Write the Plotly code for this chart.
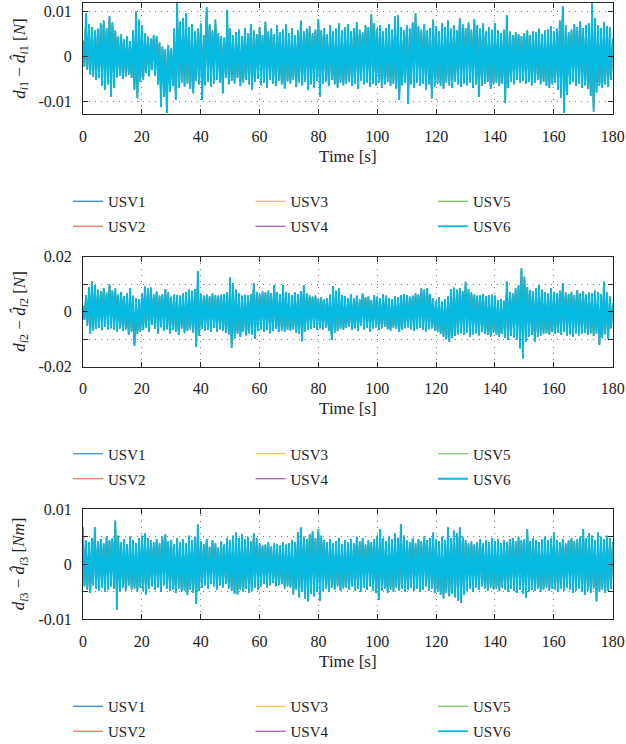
import numpy as np
import plotly.graph_objects as go

# ---------------- data ----------------
usv_names = ["USV1", "USV2", "USV3", "USV4", "USV5", "USV6"]
usv_colors = ["#0F72C6", "#F0633A", "#F6AF26", "#8B3A9F", "#5AB946", "#05B9E1"]
x_tick_vals = [0, 20, 40, 60, 80, 100, 120, 140, 160, 180]

# Estimation error, in units of 1e-4.
# "up" = local maxima at t = 0,1,...,180 s ; "dn" = local minima at t = 0.5,...,179.5 s
# (the six USV curves overlap completely in the picture, so one reading is used for all)
UNIT = 1e-4

p1_up = [35, 97, 72, 66, 58, 62, 74, 80, 64, 90,
         76, 58, 44, 50, 38, 46, 34, 58, 100, 82,
         70, 52, 44, 40, 48, 46, 32, 22, 16, 26,
         18, 62, 119, 78, 86, 97, 66, 72, 56, 62,
         74, 48, 110, 72, 58, 82, 52, 46, 42, 104,
         62, 48, 54, 60, 46, 64, 52, 72, 58, 50,
         66, 48, 78, 56, 62, 50, 70, 54, 60, 72,
         52, 64, 48, 58, 80, 56, 62, 68, 52, 60,
         84, 58, 64, 50, 70, 56, 62, 74, 58, 66,
         72, 56, 64, 76, 60, 54, 70, 66, 94, 74,
         62, 70, 56, 64, 72, 60, 90, 92, 66, 58,
         70, 62, 76, 97, 68, 60, 72, 58, 64, 82,
         68, 56, 74, 66, 80, 62, 70, 58, 85, 72,
         64, 76, 60, 84, 70, 62, 74, 56, 66, 60,
         74, 58, 52, 60, 93, 56, 48, 54, 50, 46,
         52, 58, 48, 56, 54, 62, 50, 58, 60, 68,
         56, 62, 80, 112, 70, 54, 60, 72, 66, 78,
         64, 70, 74, 119, 86, 70, 64, 76, 68, 66,
         40]
p1_dn = [-22, -30, -40, -45, -52, -48, -66, -74, -62, -89,
         -70, -46, -42, -50, -44, -40, -48, -74, -93, -56,
         -52, -36, -44, -30, -42, -62, -112, -90, -126, -78,
         -66, -97, -70, -58, -67, -60, -72, -82, -54, -62,
         -97, -64, -56, -67, -60, -52, -58, -82, -48, -62,
         -54, -60, -48, -66, -58, -52, -62, -74, -56, -50,
         -64, -58, -70, -52, -60, -66, -54, -62, -72, -56,
         -60, -52, -68, -58, -64, -56, -74, -62, -70, -54,
         -89, -60, -56, -66, -52, -62, -70, -58, -64, -60,
         -56, -66, -60, -72, -54, -62, -58, -68, -60, -64,
         -58, -70, -62, -56, -66, -60, -72, -97, -64, -58,
         -106, -62, -70, -58, -66, -60, -74, -62, -93, -68,
         -60, -66, -72, -58, -64, -70, -56, -62, -68, -60,
         -64, -58, -70, -62, -90, -66, -60, -56, -72, -62,
         -58, -66, -60, -104, -70, -56, -62, -52, -58, -54,
         -60, -56, -64, -58, -52, -62, -56, -66, -70, -62,
         -58, -74, -92, -126, -86, -62, -56, -66, -60, -70,
         -64, -72, -88, -123, -80, -66, -70, -62, -68, -52]

p2_up = [20, 60, 88, 111, 96, 80, 74, 86, 70, 100,
         78, 84, 62, 72, 56, 66, 85, 58, 48, 44,
         66, 91, 84, 88, 62, 73, 58, 64, 82, 70,
         54, 62, 60, 58, 66, 72, 80, 76, 82, 148,
         64, 58, 62, 56, 66, 60, 58, 62, 64, 70,
         124, 103, 80, 66, 58, 62, 60, 64, 103, 72,
         64, 73, 70, 76, 68, 97, 70, 64, 97, 72,
         66, 60, 70, 64, 74, 97, 66, 60, 54, 58,
         48, 52, 44, 50, 62, 93, 76, 85, 60, 56,
         50, 62, 48, 58, 44, 66, 52, 56, 42, 60,
         54, 48, 62, 58, 50, 46, 56, 52, 60, 64,
         60, 54, 58, 66, 62, 85, 80, 85, 64, 48,
         40, 52, 36, 46, 55, 82, 87, 80, 86, 74,
         109, 82, 70, 62, 58, 60, 64, 56, 60, 62,
         58, 42, 46, 40, 109, 72, 66, 85, 96, 158,
         127, 90, 78, 73, 84, 97, 80, 70, 66, 85,
         72, 68, 76, 103, 70, 64, 72, 60, 79, 66,
         74, 62, 70, 68, 76, 72, 64, 109, 70, 55,
         30]
p2_dn = [-30, -52, -79, -70, -62, -58, -67, -55, -64, -60,
         -66, -73, -61, -70, -64, -85, -72, -125, -80, -73,
         -66, -58, -73, -48, -62, -79, -56, -70, -64, -79,
         -66, -72, -85, -61, -78, -70, -64, -76, -127, -88,
         -62, -70, -66, -74, -58, -72, -64, -68, -76, -82,
         -131, -97, -80, -92, -74, -86, -78, -84, -97, -70,
         -64, -72, -66, -78, -70, -62, -74, -68, -72, -66,
         -70, -64, -76, -80, -107, -72, -66, -62, -58, -66,
         -60, -64, -58, -70, -103, -76, -70, -62, -66, -58,
         -54, -66, -60, -70, -52, -64, -58, -72, -62, -56,
         -66, -60, -54, -64, -70, -58, -62, -73, -66, -60,
         -56, -64, -70, -62, -58, -66, -72, -64, -60, -68,
         -74, -80, -91, -100, -109, -96, -88, -82, -78, -84,
         -76, -91, -82, -78, -86, -74, -80, -84, -90, -76,
         -85, -92, -80, -96, -103, -88, -94, -100, -133, -170,
         -110, -90, -85, -109, -92, -86, -80, -78, -84, -74,
         -80, -76, -84, -73, -88, -82, -91, -78, -86, -80,
         -76, -84, -78, -88, -80, -121, -96, -82, -100, -60]

p3_up = [67, 44, 40, 48, 67, 42, 46, 38, 50, 44,
         48, 79, 52, 40, 46, 36, 50, 44, 38, 48,
         52, 56, 48, 44, 40, 46, 38, 50, 55, 42,
         44, 36, 48, 40, 46, 38, 52, 44, 50, 72,
         42, 36, 46, 32, 44, 38, 30, 42, 36, 48,
         44, 52, 58, 48, 54, 46, 50, 42, 56, 48,
         38, 34, 36, 40, 32, 38, 36, 34, 40, 36,
         38, 44, 40, 58, 67, 50, 46, 55, 60, 48,
         64, 52, 44, 40, 46, 38, 42, 48, 36, 44,
         40, 46, 38, 50, 42, 48, 36, 44, 40, 46,
         52, 64, 48, 42, 50, 46, 56, 48, 73, 52,
         44, 40, 48, 38, 46, 42, 50, 44, 48, 58,
         46, 42, 50, 44, 67, 48, 61, 56, 67, 50,
         44, 38, 42, 36, 40, 46, 38, 44, 40, 48,
         42, 46, 38, 44, 40, 46, 48, 42, 50, 44,
         46, 64, 42, 48, 44, 40, 46, 50, 44, 48,
         58, 44, 40, 46, 38, 44, 48, 42, 46, 50,
         64, 48, 56, 52, 44, 58, 50, 46, 52, 48,
         40]
p3_dn = [-40, -46, -52, -38, -44, -48, -42, -50, -46, -40,
         -44, -82, -50, -42, -48, -38, -46, -44, -50, -42,
         -48, -55, -44, -40, -46, -42, -50, -38, -44, -48,
         -46, -52, -44, -50, -48, -56, -46, -52, -72, -48,
         -42, -38, -44, -36, -40, -46, -38, -42, -36, -44,
         -48, -54, -55, -46, -50, -44, -52, -48, -42, -46,
         -40, -36, -42, -38, -34, -40, -38, -36, -44, -40,
         -42, -55, -46, -60, -50, -62, -67, -54, -58, -50,
         -66, -48, -44, -50, -42, -46, -40, -48, -44, -42,
         -46, -40, -48, -44, -50, -42, -46, -40, -48, -52,
         -65, -48, -44, -52, -46, -50, -42, -48, -44, -50,
         -46, -42, -48, -44, -50, -46, -40, -48, -44, -52,
         -50, -56, -62, -52, -58, -54, -60, -66, -70, -56,
         -48, -44, -50, -42, -46, -40, -44, -48, -42, -46,
         -44, -48, -42, -46, -50, -44, -48, -52, -46, -54,
         -61, -50, -46, -48, -44, -50, -46, -42, -48, -44,
         -46, -50, -44, -48, -42, -46, -52, -48, -44, -50,
         -56, -48, -52, -44, -67, -50, -46, -52, -48, -44]

y_titles = [
    "<i>d</i><sub><i>i</i>1</sub> − <i>d̂</i><sub><i>i</i>1</sub> [<i>N</i>]",
    "<i>d</i><sub><i>i</i>2</sub> − <i>d̂</i><sub><i>i</i>2</sub> [<i>N</i>]",
    "<i>d</i><sub><i>i</i>3</sub> − <i>d̂</i><sub><i>i</i>3</sub> [<i>Nm</i>]",
]
y_ranges = [[-0.0129, 0.0119], [-0.02, 0.02], [-0.01, 0.01]]
y_tick_vals = [[-0.01, 0, 0.01], [-0.02, 0, 0.02], [-0.01, 0, 0.01]]
y_tick_text = [["-0.01", "0", "0.01"], ["-0.02", "0", "0.02"], ["-0.01", "0", "0.01"]]
y_minor_vals = [[], [-0.01, 0.01], [-0.005, 0.005]]   # unlabelled ticks / grid lines

# ---------------- layout geometry ----------------
W, H = 626, 744
FONT = "Liberation Serif"
TXT = "#222222"
x_dom = [83 / W, 612.7 / W]
panel_px = [(3.3, 114.3), (256.7, 366.7), (509.3, 619.3)]
legend_rows = [(201.5, 226.5), (454.0, 479.0), (706.5, 731.5)]
legend_cols = [73.0, 255.5, 438.0]
# USV6 is drawn last and slightly wider, so it hides the (identical) curves below it
line_widths = [1.1, 1.1, 1.1, 1.1, 1.1, 1.8]

panels = [(p1_up, p1_dn), (p2_up, p2_dn), (p3_up, p3_dn)]

GRID = dict(showgrid=True, gridcolor="#7a7a7a", griddash="1px,5px", gridwidth=1)
TICK = dict(ticks="inside", ticklen=5, tickcolor="#262626", tickwidth=1)

fig = go.Figure()
annotations = []
for p, (up, dn) in enumerate(panels):
    up = np.asarray(up, dtype=float) * UNIT
    dn = np.asarray(dn, dtype=float) * UNIT
    t_up = np.arange(len(up), dtype=float)
    t_dn = t_up[:len(dn)] + 0.5
    t = np.empty(len(up) + len(dn))
    y = np.empty(len(up) + len(dn))
    t[0::2], t[1::2] = t_up, t_dn
    y[0::2], y[1::2] = up, dn
    sfx = "" if p == 0 else str(p + 1)
    for k, (nm, col) in enumerate(zip(usv_names, usv_colors)):
        lid = p * 6 + k + 1
        lname = "legend" if lid == 1 else f"legend{lid}"
        fig.add_trace(go.Scatter(
            x=t, y=y, mode="lines", name=nm,
            line=dict(color=col, width=line_widths[k], simplify=False),
            xaxis="x" + sfx, yaxis="y" + sfx,
            legend=lname, showlegend=True, hoverinfo="skip",
        ))
        c, r = k // 2, k % 2
        fig.layout[lname] = dict(
            x=(legend_cols[c] - 5) / W, xref="container", xanchor="left",
            y=1 - legend_rows[p][r] / H, yref="container", yanchor="middle",
            bgcolor="rgba(0,0,0,0)", borderwidth=0,
            font=dict(family=FONT, size=15, color=TXT),
        )

    top, bot = panel_px[p]
    axis_common = dict(
        TICK, **GRID,
        showline=True, linecolor="#262626", linewidth=1, mirror="ticks",
        zeroline=False, tickfont=dict(family=FONT, size=16, color=TXT),
        ticklabelstandoff=7,
    )
    fig.layout["xaxis" + sfx] = dict(
        axis_common, domain=x_dom, anchor="y" + sfx, range=[0, 180],
        tickmode="array", tickvals=x_tick_vals, ticktext=[str(v) for v in x_tick_vals],
        title=dict(text="Time [s]", font=dict(family=FONT, size=17, color=TXT), standoff=6),
    )
    ycfg = dict(
        axis_common, domain=[1 - bot / H, 1 - top / H], anchor="x" + sfx,
        range=y_ranges[p], tickmode="array", tickvals=y_tick_vals[p], ticktext=y_tick_text[p],
    )
    if y_minor_vals[p]:
        ycfg["minor"] = dict(tickmode="array", tickvals=y_minor_vals[p], **TICK, **GRID)
    fig.layout["yaxis" + sfx] = ycfg
    # y-axis title (rotated), placed left of the tick labels
    annotations.append(dict(
        text=y_titles[p], textangle=-90, showarrow=False,
        xref="paper", yref="paper", x=20 / W, y=1 - (top + bot) / 2 / H,
        xanchor="center", yanchor="middle",
        font=dict(family=FONT, size=17, color=TXT),
    ))

fig.update_layout(
    width=W, height=H, margin=dict(l=0, r=0, t=0, b=0, autoexpand=False),
    paper_bgcolor="white", plot_bgcolor="white",
    font=dict(family=FONT, color=TXT),
    hovermode=False, annotations=annotations,
)
fig.write_html("out.html", config={"displayModeBar": False})
